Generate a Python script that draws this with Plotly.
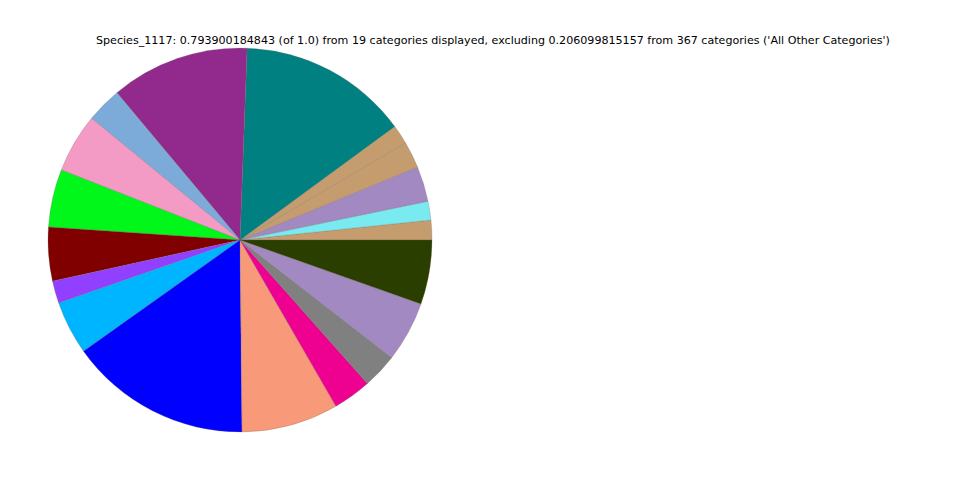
import plotly.graph_objects as go

labels = ["Cat_01", "Cat_02", "Cat_03", "Cat_04", "Cat_05", "Cat_06", "Cat_07",
          "Cat_08", "Cat_09", "Cat_10", "Cat_11", "Cat_12", "Cat_13", "Cat_14",
          "Cat_15", "Cat_16", "Cat_17", "Cat_18", "Cat_19"]
# slice sizes (in degrees of the displayed pie)
degrees = [5.98, 5.7, 10.7, 8.0, 5.9, 51.6, 42.0, 10.8, 17.9, 17.5,
           16.3, 6.8, 16.2, 55.2, 29.4, 11.6, 10.6, 18.3, 19.5]
colors = ["#C49C6E", "#78EAF0", "#A389C2", "#C49C6E", "#C49C6E", "#008080",
          "#912A8C", "#7CAAD9", "#F49BC5", "#00F719", "#800000", "#9140FF",
          "#00B5FF", "#0000FF", "#F8997A", "#EE0091", "#808080", "#A389C2",
          "#2A3E00"]
displayed = 0.793900184843
title = ("Species_1117: 0.793900184843 (of 1.0) from 19 categories displayed, "
         "excluding 0.206099815157 from 367 categories ('All Other Categories')")

total = sum(degrees)
values = [d / total * displayed for d in degrees]

fig = go.Figure(go.Pie(
    labels=labels, values=values, sort=False, direction="counterclockwise",
    rotation=90 - degrees[0], textinfo="none", hoverinfo="label+value",
    marker=dict(colors=colors, line=dict(color="rgba(110,100,90,0.5)", width=0.5)),
    domain=dict(x=[48 / 960, 432 / 960], y=[48 / 480, 432 / 480]),
    showlegend=False,
))

fig.update_layout(
    width=960, height=480,
    margin=dict(l=0, r=0, t=0, b=0),
    paper_bgcolor="white", plot_bgcolor="white",
    font=dict(family="DejaVu Sans", color="black"),
    annotations=[dict(text=title, x=492.5 / 960, y=1 - 40 / 480, xref="paper", yref="paper",
                      xanchor="center", yanchor="middle", showarrow=False,
                      font=dict(size=11.1, family="DejaVu Sans", color="black"))],
)

fig.write_html("out.html", config={"displayModeBar": False},
               post_script="document.body.style.margin='0';document.body.style.padding='0';")
